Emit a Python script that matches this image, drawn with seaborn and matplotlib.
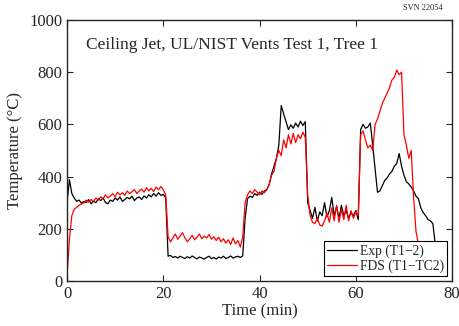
import seaborn as sns
import matplotlib
matplotlib.use("Agg")
import matplotlib.pyplot as plt
import numpy as np
import pandas as pd

sns.set_style("ticks")
plt.rcParams["font.family"] = ["Liberation Serif", "DejaVu Serif"]

# sample times (min), 0.5 min spacing
exp_time = np.arange(0, 77, 0.5)
fds_time = np.arange(0, 75.5, 0.5)

exp_temp = [
    300, 388, 335, 318, 305, 310, 298, 305, 300, 312,
    296, 305, 300, 315, 308, 318, 300, 296, 310, 305,
    318, 310, 322, 305, 312, 320, 315, 325, 308, 318,
    322, 312, 326, 318, 330, 322, 335, 325, 338, 328,
    332, 318, 95, 98, 90, 94, 88, 95, 90, 86,
    93, 88, 96, 90, 85, 92, 88, 84, 90, 95,
    86, 90, 84, 92, 88, 95, 86, 90, 96, 88,
    92, 95, 90, 96, 240, 315, 325, 320, 335, 328,
    340, 332, 345, 350, 370, 410, 440, 470, 520, 672,
    640, 610, 580, 598, 585, 605, 590, 612, 596, 610,
    300, 270, 240, 282, 230, 265, 250, 300, 245, 270,
    320, 250, 285, 240, 290, 250, 270, 240, 262, 250,
    270, 235, 580, 600, 585, 590, 605, 520, 430, 340,
    345, 365, 385, 395, 410, 420, 440, 450, 488, 440,
    405, 380, 372, 360, 345, 325, 315, 280, 262, 250,
    235, 230, 220, 140,
]

fds_temp = [
    20, 160, 250, 275, 282, 290, 295, 300, 310, 302,
    312, 305, 318, 310, 322, 315, 330, 318, 325, 335,
    322, 340, 330, 338, 328, 345, 335, 342, 350, 335,
    345, 352, 340, 358, 345, 355, 342, 360, 350, 362,
    350, 330, 170, 150, 165, 180, 160, 172, 185, 165,
    150, 162, 175, 158, 168, 180, 162, 172, 165, 178,
    160, 170, 155, 168, 150, 162, 145, 158, 140, 165,
    142, 155, 130, 170, 300, 330, 345, 335, 350, 340,
    330, 345, 338, 350, 370, 405, 420, 470, 500, 480,
    540, 510, 560, 525, 565, 530, 560, 545, 570, 550,
    330, 250, 225, 220, 240, 215, 210, 230, 260, 225,
    280, 230, 290, 225, 275, 235, 290, 230, 270, 240,
    265, 250, 560, 575, 540, 510, 520, 500, 600, 620,
    650, 680, 700, 720, 740, 770, 780, 808, 790, 800,
    560, 520, 470, 500, 320, 190, 140, 110, 80, 50,
    20,
]

exp_df = pd.DataFrame({"t": exp_time, "T": exp_temp})
fds_df = pd.DataFrame({"t": fds_time, "T": fds_temp})

fig = plt.figure(figsize=(4.59, 3.26), dpi=100)
ax = fig.add_axes([0.146, 0.138, 0.839, 0.801])

sns.lineplot(x="t", y="T", data=exp_df, color="black", lw=0.9, label="Exp (T1\u22122)", ax=ax)
sns.lineplot(x="t", y="T", data=fds_df, color="red", lw=0.9, label="FDS (T1\u2212TC2)", ax=ax)

ax.set_xlim(0, 80)
ax.set_ylim(0, 1000)
ax.set_xticks(np.arange(0, 81, 20))
ax.set_yticks(np.arange(0, 1001, 200))
ax.tick_params(direction="in", top=True, right=True, labelsize=12, length=4, width=0.8)
for s in ax.spines.values():
    s.set_linewidth(1.0)
ax.set_xlabel("Time (min)", fontsize=12, labelpad=1)
ax.set_ylabel("Temperature (\u00b0C)", fontsize=12, labelpad=4)

ax.text(0.05, 0.905, "Ceiling Jet, UL/NIST Vents Test 1, Tree 1", transform=ax.transAxes,
        fontsize=12.5, va="center", ha="left")
fig.text(0.965, 0.975, "SVN 22054", fontsize=6, ha="right", va="center")

leg = ax.legend(loc="lower right", fontsize=9.8, frameon=True, fancybox=False,
                edgecolor="black", framealpha=1, handlelength=2.2, handletextpad=0.2,
                borderaxespad=0.35, borderpad=0.25, labelspacing=0.1)
leg.get_frame().set_linewidth(0.8)

fig.savefig("out.png", dpi=100)
